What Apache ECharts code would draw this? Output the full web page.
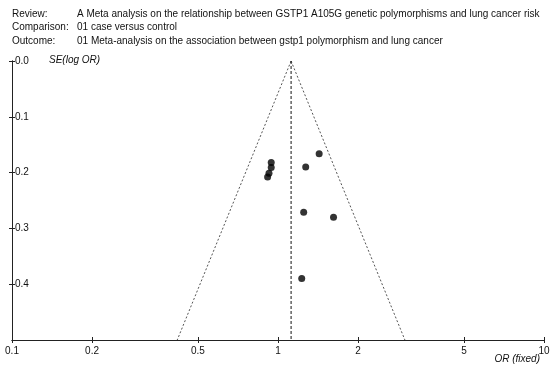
<!DOCTYPE html>
<html>
<head>
<meta charset="utf-8">
<script src="https://cdn.jsdelivr.net/npm/echarts@6/dist/echarts.min.js"></script>
<style>
  html, body { margin: 0; padding: 0; background: #fff; }
  #chart { width: 553px; height: 367px; }
</style>
</head>
<body>
<div id="chart"></div>
<script>
// header lines
const headerLabels = ['Review:', 'Comparison:', 'Outcome:']
const headerValues = [
  'A Meta analysis on the relationship between GSTP1 A105G genetic polymorphisms and lung cancer risk',
  '01 case versus control',
  '01 Meta-analysis on the association between gstp1 polymorphism and lung cancer'
]

// studies
const studyOR = [0.943, 0.943, 0.925, 0.914, 1.428, 1.271, 1.249, 1.617, 1.228]
const studySE = [0.182, 0.191, 0.201, 0.208, 0.166, 0.190, 0.271, 0.280, 0.390]

// pooled estimate and funnel limits
const pooledOR = 1.12
const funnelSE = [0, 0.5]
const funnelLeftOR = [1.12, 0.418]
const funnelRightOR = [1.12, 3.0]

// axes
const xTicks = [0.1, 0.2, 0.5, 1, 2, 5, 10]
const yTicks = [0, 0.1, 0.2, 0.3, 0.4]

const font = 'Liberation Sans, Arial, sans-serif'
const ink = '#111'

const gridBox = { left: 12, right: 9, top: 61, bottom: 27 }

// main axes carry labels + outer ticks, the twin grid adds the inner half of each tick
const makeX = (gridIndex, main) => ({
  type: 'log',
  gridIndex,
  min: 0.1,
  max: 10,
  axisLine: { show: true, onZero: false, lineStyle: { color: '#222', width: 1 } },
  axisTick: { show: true, inside: !main, length: 3, customValues: xTicks, lineStyle: { color: '#222' } },
  axisLabel: {
    show: main,
    customValues: xTicks,
    margin: 6,
    color: ink,
    fontFamily: font,
    fontSize: 10,
    formatter: v => String(+v.toPrecision(3))
  },
  splitLine: { show: false }
})

const makeY = (gridIndex, main) => ({
  type: 'value',
  gridIndex,
  min: 0,
  max: 0.5,
  inverse: true,
  axisLine: { show: true, onZero: false, lineStyle: { color: '#222', width: 1 } },
  axisTick: { show: true, inside: !main, length: 3, customValues: yTicks, lineStyle: { color: '#222' } },
  axisLabel: {
    show: main,
    inside: true,
    customValues: yTicks,
    margin: 3,
    color: ink,
    fontFamily: font,
    fontSize: 10,
    formatter: v => v.toFixed(1)
  },
  splitLine: { show: false }
})

const headerGraphics = []
headerLabels.forEach((label, i) => {
  const y = 15 + i * 13.7
  headerGraphics.push({
    type: 'text', left: 12, top: y - 6,
    style: { text: label, fill: ink, font: '10px ' + font }
  })
  headerGraphics.push({
    type: 'text', left: 77, top: y - 6,
    style: { text: headerValues[i], fill: ink, font: '10px ' + font }
  })
})

const chart = echarts.init(document.getElementById('chart'), null, { renderer: 'canvas' })

chart.setOption({
  backgroundColor: '#fff',
  animation: false,
  grid: [
    Object.assign({}, gridBox),
    Object.assign({}, gridBox)
  ],
  xAxis: [makeX(0, true), makeX(1, false)],
  yAxis: [makeY(0, true), makeY(1, false)],
  graphic: headerGraphics.concat([
    {
      type: 'text', left: 49, top: 55,
      style: { text: 'SE(log OR)', fill: ink, font: 'italic 10px ' + font }
    },
    {
      type: 'text', right: 13, top: 354,
      style: { text: 'OR (fixed)', fill: ink, font: 'italic 10px ' + font }
    }
  ]),
  series: [
    {
      name: 'funnel left',
      type: 'line',
      xAxisIndex: 0, yAxisIndex: 0,
      data: funnelSE.map((se, i) => [funnelLeftOR[i], se]),
      symbol: 'none',
      silent: true,
      lineStyle: { color: '#555', width: 1, type: [2, 2] }
    },
    {
      name: 'funnel right',
      type: 'line',
      xAxisIndex: 0, yAxisIndex: 0,
      data: funnelSE.map((se, i) => [funnelRightOR[i], se]),
      symbol: 'none',
      silent: true,
      lineStyle: { color: '#555', width: 1, type: [2, 2] }
    },
    {
      name: 'pooled',
      type: 'line',
      xAxisIndex: 0, yAxisIndex: 0,
      data: funnelSE.map(se => [pooledOR, se]),
      symbol: 'none',
      silent: true,
      lineStyle: { color: '#111', width: 1, type: [3, 2] }
    },
    {
      name: 'studies',
      type: 'scatter',
      xAxisIndex: 0, yAxisIndex: 0,
      data: studyOR.map((or, i) => [or, studySE[i]]),
      symbol: 'circle',
      symbolSize: 7,
      itemStyle: { color: '#000' }
    }
  ]
})
</script>
</body>
</html>
